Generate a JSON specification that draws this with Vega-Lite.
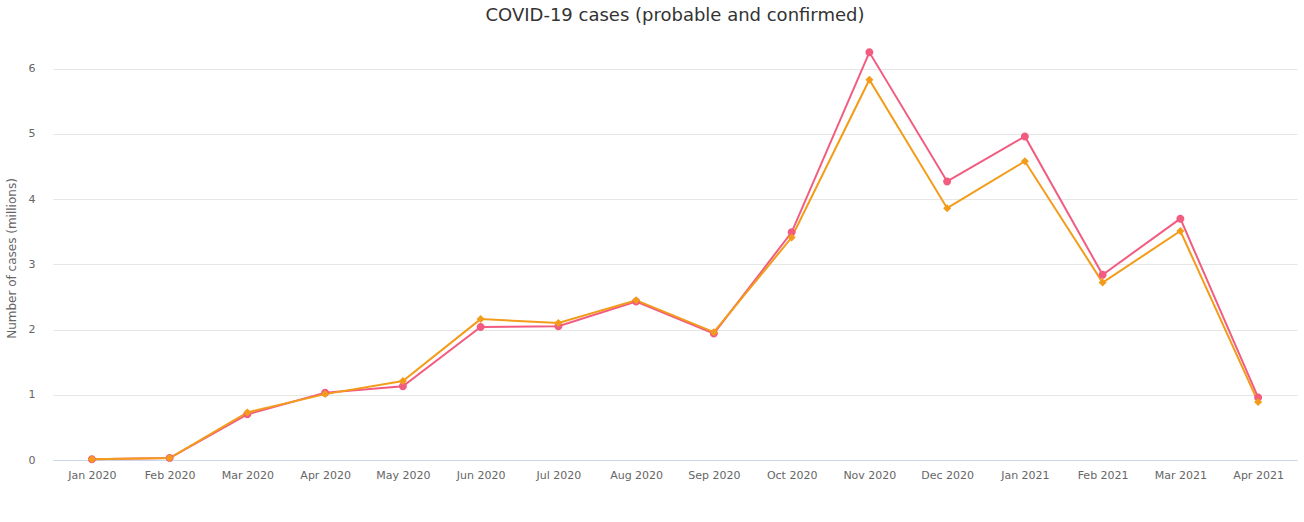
{
  "$schema": "https://vega.github.io/schema/vega-lite/v6.json",
  "autosize": {"type": "none"},
  "padding": {"left": 53, "top": 36, "right": 7, "bottom": 62},
  "width": 1244,
  "height": 424,
  "background": "white",
  "title": {"text": "COVID-19 cases (probable and confirmed)", "font": "DejaVu Sans", "fontSize": 18, "fontWeight": "normal", "color": "#333333", "anchor": "middle", "frame": "group", "offset": 11},
  "data": {"values": [
    {"month": "Jan 2020", "sex": "Female", "cases": 0.01},
    {"month": "Feb 2020", "sex": "Female", "cases": 0.03},
    {"month": "Mar 2020", "sex": "Female", "cases": 0.70},
    {"month": "Apr 2020", "sex": "Female", "cases": 1.03},
    {"month": "May 2020", "sex": "Female", "cases": 1.13},
    {"month": "Jun 2020", "sex": "Female", "cases": 2.04},
    {"month": "Jul 2020", "sex": "Female", "cases": 2.05},
    {"month": "Aug 2020", "sex": "Female", "cases": 2.43},
    {"month": "Sep 2020", "sex": "Female", "cases": 1.94},
    {"month": "Oct 2020", "sex": "Female", "cases": 3.49},
    {"month": "Nov 2020", "sex": "Female", "cases": 6.25},
    {"month": "Dec 2020", "sex": "Female", "cases": 4.27},
    {"month": "Jan 2021", "sex": "Female", "cases": 4.96},
    {"month": "Feb 2021", "sex": "Female", "cases": 2.84},
    {"month": "Mar 2021", "sex": "Female", "cases": 3.70},
    {"month": "Apr 2021", "sex": "Female", "cases": 0.96},
    {"month": "Jan 2020", "sex": "Male", "cases": 0.01},
    {"month": "Feb 2020", "sex": "Male", "cases": 0.03},
    {"month": "Mar 2020", "sex": "Male", "cases": 0.73},
    {"month": "Apr 2020", "sex": "Male", "cases": 1.01},
    {"month": "May 2020", "sex": "Male", "cases": 1.21},
    {"month": "Jun 2020", "sex": "Male", "cases": 2.16},
    {"month": "Jul 2020", "sex": "Male", "cases": 2.10},
    {"month": "Aug 2020", "sex": "Male", "cases": 2.45},
    {"month": "Sep 2020", "sex": "Male", "cases": 1.96},
    {"month": "Oct 2020", "sex": "Male", "cases": 3.41},
    {"month": "Nov 2020", "sex": "Male", "cases": 5.83},
    {"month": "Dec 2020", "sex": "Male", "cases": 3.86},
    {"month": "Jan 2021", "sex": "Male", "cases": 4.58},
    {"month": "Feb 2021", "sex": "Male", "cases": 2.72},
    {"month": "Mar 2021", "sex": "Male", "cases": 3.51},
    {"month": "Apr 2021", "sex": "Male", "cases": 0.89}
  ]},
  "encoding": {
    "x": {"field": "month", "type": "ordinal", "sort": null,
      "scale": {"type": "point", "padding": 0.5},
      "axis": {"title": null, "labelAngle": 0, "labelFont": "DejaVu Sans", "labelFontSize": 11, "labelColor": "#666666", "labelPadding": 9, "ticks": false, "domainColor": "#ccd6eb", "domainWidth": 1, "grid": false}},
    "y": {"field": "cases", "type": "quantitative",
      "scale": {"domain": [0, 6.5], "nice": false},
      "axis": {"title": "Number of cases (millions)", "titleFont": "DejaVu Sans", "titleFontSize": 12, "titleFontWeight": "normal", "titleColor": "#666666", "titleY": 222, "titleX": -35, "titleAlign": "center", "titleBaseline": "bottom", "values": [0, 1, 2, 3, 4, 5, 6], "labelFont": "DejaVu Sans", "labelFontSize": 11, "labelColor": "#666666", "labelPadding": 18, "ticks": false, "domain": false, "gridColor": "#e6e6e6", "gridWidth": 1}}
  },
  "layer": [
    {
      "mark": {"type": "line", "strokeWidth": 2},
      "encoding": {
        "color": {"field": "sex", "type": "nominal", "scale": {"domain": ["Female", "Male"], "range": ["#f15c80", "#f39c1a"]}, "legend": null}
      }
    },
    {
      "mark": {"type": "point", "filled": true, "size": 256, "opacity": 1},
      "encoding": {
        "fill": {"field": "sex", "type": "nominal", "scale": {"domain": ["Female", "Male"], "range": ["#f15c80", "#f39c1a"]}, "legend": null},
        "stroke": {"field": "sex", "type": "nominal", "scale": {"domain": ["Female", "Male"], "range": ["#f15c80", "#f39c1a"]}, "legend": null},
        "shape": {"field": "sex", "type": "nominal", "scale": {"domain": ["Female", "Male"], "range": ["M-1,0L1,0M-0.5,0A0.5,0.5,0,1,1,0.5,0A0.5,0.5,0,1,1,-0.5,0Z", "M-1,0L1,0M0,-0.5L0.5,0L0,0.5L-0.5,0Z"]}, "legend": {"title": null, "orient": "none", "direction": "horizontal", "legendX": 521, "legendY": 455}},
        "strokeWidth": {"value": 0}
      }
    }
  ],
  "config": {
    "view": {"stroke": null},
    "font": "DejaVu Sans",
    "legend": {"labelFont": "DejaVu Sans", "labelFontSize": 12, "labelFontWeight": "bold", "labelColor": "#333333", "symbolSize": 256, "symbolStrokeWidth": 2, "symbolOpacity": 1, "columnPadding": 22, "labelOffset": 6}
  }
}
